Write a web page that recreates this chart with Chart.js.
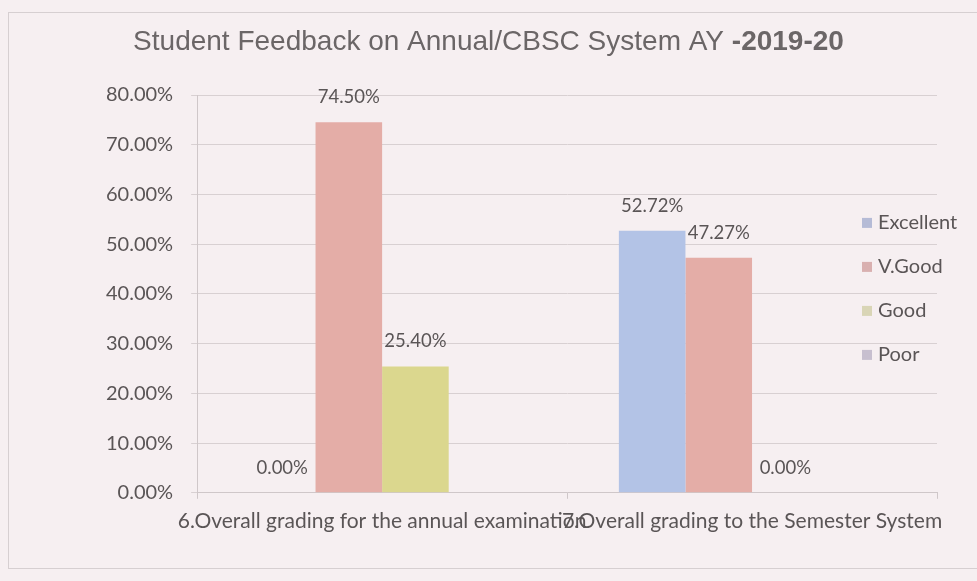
<!DOCTYPE html>
<html>
<head>
<meta charset="utf-8">
<script src="https://cdn.jsdelivr.net/npm/chart.js@4/dist/chart.umd.min.js"></script>
<style>
  html, body { margin: 0; padding: 0; background: #f6eff1; }
  #wrap { position: relative; width: 977px; height: 581px; }
  #frame { position: absolute; left: 8px; top: 12px; width: 990px; height: 557px;
           border: 1.5px solid #d6cfd1; box-sizing: border-box; }
  canvas { position: absolute; left: 0; top: 0; }
</style>
</head>
<body>
<div id="wrap">
  <div id="frame"></div>
  <canvas id="chart" width="977" height="581"></canvas>
</div>
<script>
var categories = ['6.Overall grading for the annual examination', '7.Overall grading to the Semester System'];
var excellent = [0, 52.72];
var vgood = [74.50, 47.27];
var good = [25.40, 0];
var poor = [null, null];
var yTicks = [0, 10, 20, 30, 40, 50, 60, 70, 80];

var titleMain = 'Student Feedback on Annual/CBSC System AY ';
var titleBold = '-2019-20';

var textColor = '#5a5556';
var labelFont = "Lato, 'Open Sans', sans-serif";
var titleFont = "'Liberation Sans Narrow', 'Liberation Sans', sans-serif";

// title drawn in two parts so the year can be bold
var titlePlugin = {
  id: 'twoPartTitle',
  afterDraw: function(chart) {
    var ctx = chart.ctx;
    ctx.save();
    ctx.fillStyle = '#6b6667';
    ctx.textBaseline = 'middle';
    ctx.font = '28px ' + titleFont;
    var w1 = ctx.measureText(titleMain).width;
    ctx.font = 'bold 28px ' + titleFont;
    var w2 = ctx.measureText(titleBold).width;
    var x = (chart.width - w1 - w2) / 2;
    ctx.font = '28px ' + titleFont;
    ctx.fillText(titleMain, x, 42);
    ctx.font = 'bold 28px ' + titleFont;
    ctx.fillText(titleBold, x + w1, 42);
    ctx.restore();
  }
};

// value labels above the bars
var valueLabels = {
  id: 'valueLabels',
  afterDatasetsDraw: function(chart) {
    var ctx = chart.ctx;
    ctx.save();
    ctx.fillStyle = textColor;
    ctx.font = '18.5px ' + labelFont;
    ctx.textAlign = 'center';
    ctx.textBaseline = 'middle';
    chart.data.datasets.forEach(function(ds, i) {
      var meta = chart.getDatasetMeta(i);
      meta.data.forEach(function(bar, j) {
        var v = ds.data[j];
        if (v === null) return;
        ctx.fillText(v.toFixed(2) + '%', bar.x, bar.y - 25);
      });
    });
    ctx.restore();
  }
};

// legend sits over the right part of the plot, like the original
var sideLegend = {
  id: 'sideLegend',
  afterDraw: function(chart) {
    var ctx = chart.ctx;
    var area = chart.chartArea;
    var ds = chart.data.datasets;
    var step = 44;
    var y0 = (area.top + area.bottom) / 2 - step * (ds.length - 1) / 2 - 5;
    var x0 = area.right - 75;
    ctx.save();
    ctx.font = '20px ' + labelFont;
    ctx.textBaseline = 'middle';
    ds.forEach(function(d, i) {
      var y = y0 + i * step;
      ctx.fillStyle = d.legendColor;
      ctx.fillRect(x0, y - 5, 10, 10);
      ctx.fillStyle = textColor;
      ctx.fillText(d.label, x0 + 16, y);
    });
    ctx.restore();
  }
};

new Chart(document.getElementById('chart'), {
  type: 'bar',
  data: {
    labels: categories,
    datasets: [
      { label: 'Excellent', data: excellent, backgroundColor: '#b3c3e6', legendColor: '#b5bbd6' },
      { label: 'V.Good', data: vgood, backgroundColor: '#e4ada7', legendColor: '#d9b0b0' },
      { label: 'Good', data: good, backgroundColor: '#dbd78e', legendColor: '#d9d5b6' },
      { label: 'Poor', data: poor, backgroundColor: '#c9bfd6', legendColor: '#c7bfcf' }
    ]
  },
  options: {
    responsive: false,
    animation: false,
    layout: { padding: { left: 88, right: 40, top: 95, bottom: 37 } },
    plugins: {
      legend: { display: false },
      title: { display: false },
      tooltip: { enabled: false }
    },
    datasets: { bar: { categoryPercentage: 0.72, barPercentage: 1.0 } },
    scales: {
      x: {
        grid: { drawOnChartArea: false, offset: true, tickLength: 6, color: '#cfc7c9' },
        border: { color: '#cfc7c9' },
        ticks: {
          autoSkip: false, maxRotation: 0, minRotation: 0,
          color: textColor, font: { family: labelFont, size: 21 }, padding: 10
        }
      },
      y: {
        min: 0, max: 80,
        afterBuildTicks: function(axis) {
          axis.ticks = yTicks.map(function(v) { return { value: v }; });
        },
        grid: { color: '#d8d0d2', tickLength: 6 },
        border: { color: '#cfc7c9' },
        ticks: {
          color: textColor, font: { family: labelFont, size: 20 }, padding: 18,
          callback: function(v) { return v.toFixed(2) + '%'; }
        }
      }
    }
  },
  plugins: [titlePlugin, valueLabels, sideLegend]
});
</script>
</body>
</html>
